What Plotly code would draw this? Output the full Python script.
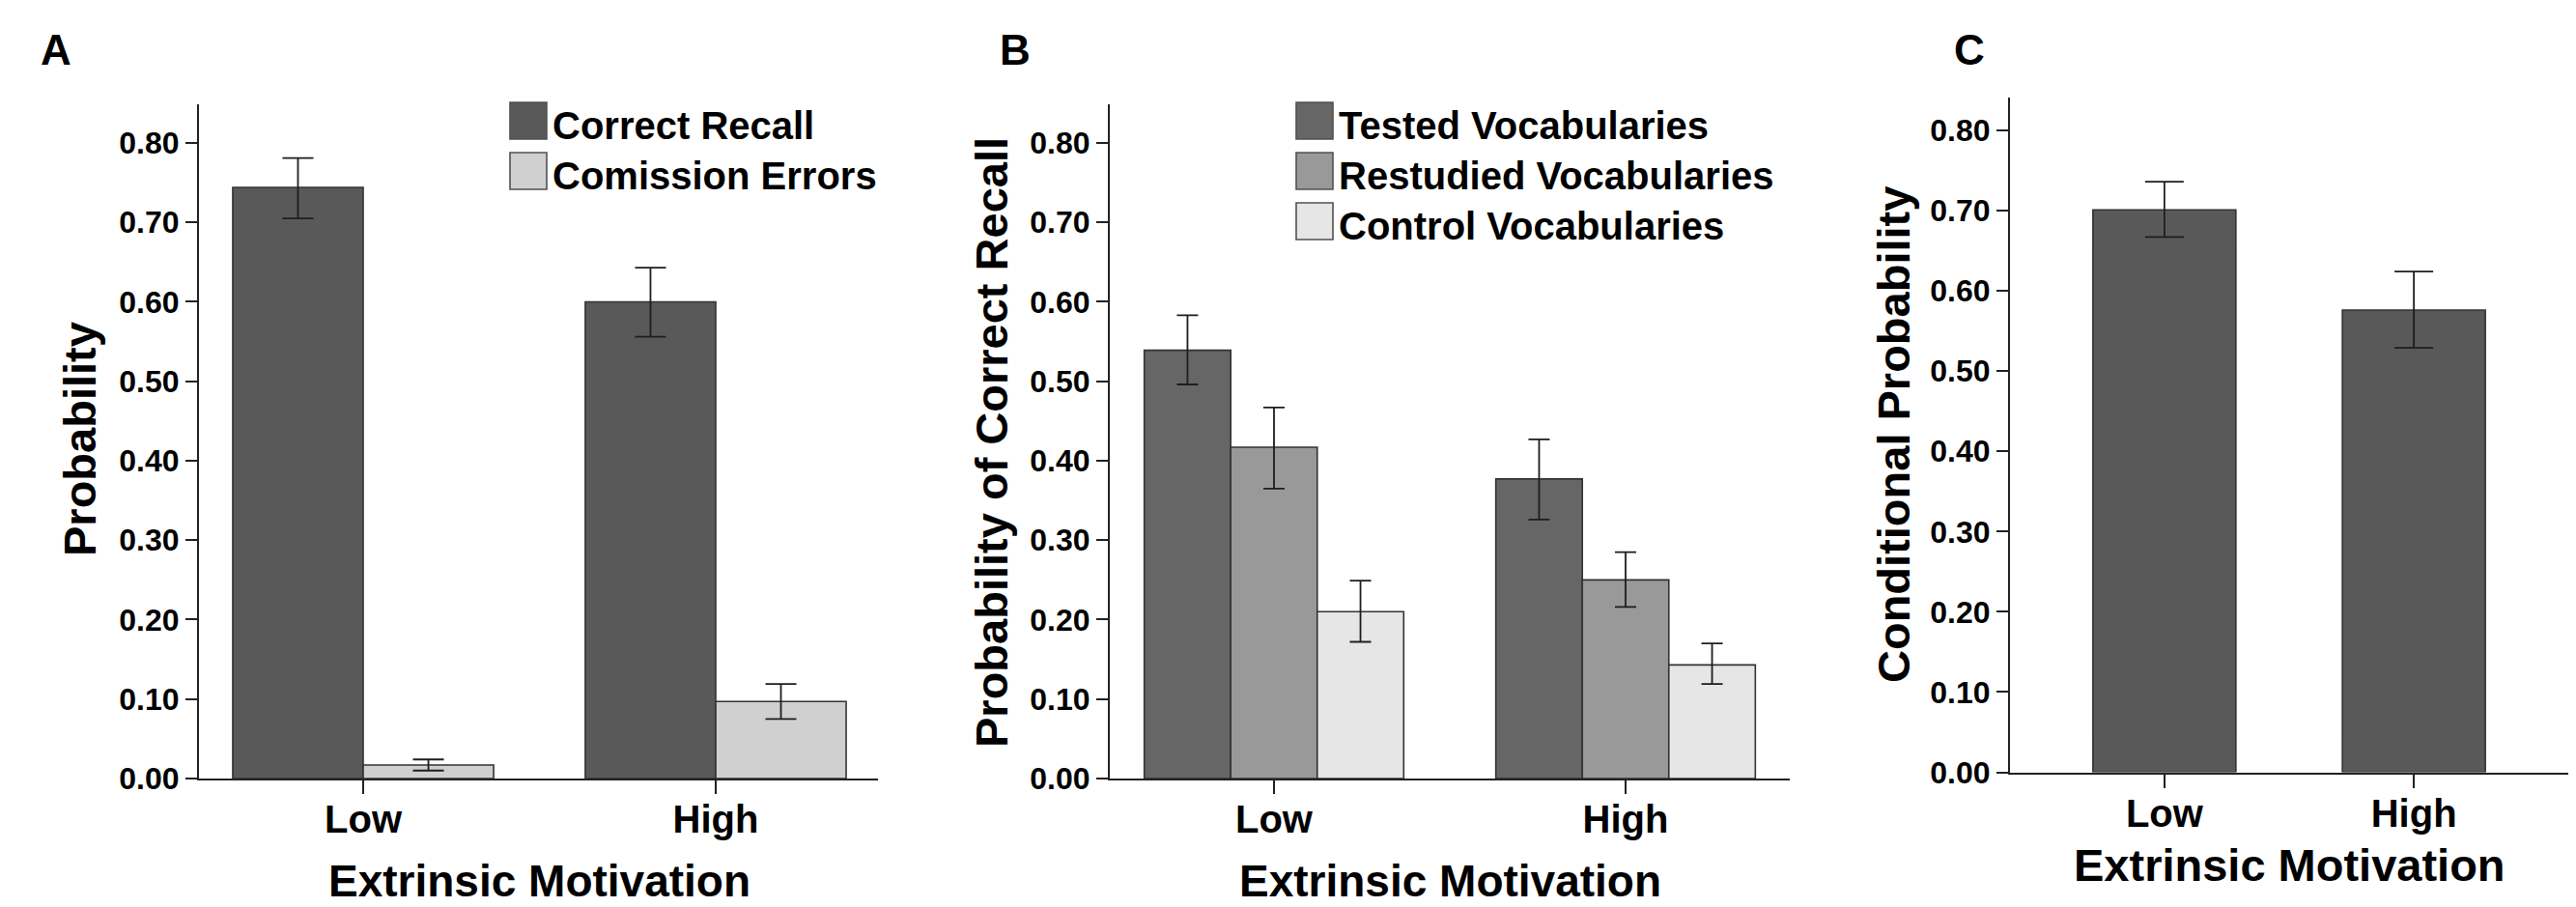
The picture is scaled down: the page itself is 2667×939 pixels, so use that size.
import plotly.graph_objects as go

W, H = 2667, 939
FONT = "Liberation Sans, Arial, sans-serif"

# ---------------- data ----------------
categories = ["Low", "High"]
y_ticks = [0.0, 0.1, 0.2, 0.3, 0.4, 0.5, 0.6, 0.7, 0.8]
y_tick_labels = ["0.00", "0.10", "0.20", "0.30", "0.40", "0.50", "0.60", "0.70", "0.80"]

# Panel A
a_series = ["Correct Recall", "Comission Errors"]
a_correct = [0.744, 0.600]
a_correct_hi = [0.781, 0.643]
a_correct_lo = [0.705, 0.556]
a_comm = [0.017, 0.097]
a_comm_hi = [0.024, 0.119]
a_comm_lo = [0.010, 0.075]

# Panel B
b_series = ["Tested Vocabularies", "Restudied Vocabularies", "Control Vocabularies"]
b_tested = [0.539, 0.377]
b_tested_hi = [0.583, 0.427]
b_tested_lo = [0.496, 0.326]
b_restud = [0.417, 0.250]
b_restud_hi = [0.467, 0.285]
b_restud_lo = [0.365, 0.216]
b_control = [0.210, 0.143]
b_control_hi = [0.249, 0.170]
b_control_lo = [0.172, 0.119]

# Panel C
c_cond = [0.701, 0.576]
c_cond_hi = [0.736, 0.624]
c_cond_lo = [0.667, 0.529]

# ---------------- styles ----------------
C_DARK = "#595959"
C_LIGHT = "#d0d0d0"
C_TEST = "#666666"
C_REST = "#999999"
C_CTRL = "#e6e6e6"
EDGE = "#333333"
ERR = "#1e1e1e"
AX = "#222222"


def px(x):
    return x / W


def py(y):
    return 1 - y / H


def bar(name, vals, hi, lo, color, xa, ya, offset, width, capw):
    return go.Bar(
        name=name, x=categories, y=vals, xaxis=xa, yaxis=ya,
        offset=offset, width=width, showlegend=False,
        marker=dict(color=color, line=dict(color=EDGE, width=1.6)),
        error_y=dict(type="data", symmetric=False,
                     array=[h - v for h, v in zip(hi, vals)],
                     arrayminus=[v - l for v, l in zip(vals, lo)],
                     color=ERR, thickness=1.8, width=capw),
    )


fig = go.Figure()
# Panel A
wa = 0.370
fig.add_trace(bar(a_series[0], a_correct, a_correct_hi, a_correct_lo, C_DARK, "x", "y", -wa, wa, 16))
fig.add_trace(bar(a_series[1], a_comm, a_comm_hi, a_comm_lo, C_LIGHT, "x", "y", 0, wa, 16))
# Panel B
wb = 0.246
fig.add_trace(bar(b_series[0], b_tested, b_tested_hi, b_tested_lo, C_TEST, "x2", "y2", -1.5 * wb, wb, 11))
fig.add_trace(bar(b_series[1], b_restud, b_restud_hi, b_restud_lo, C_REST, "x2", "y2", -0.5 * wb, wb, 11))
fig.add_trace(bar(b_series[2], b_control, b_control_hi, b_control_lo, C_CTRL, "x2", "y2", 0.5 * wb, wb, 11))
# Panel C
wc = 0.573
fig.add_trace(bar("Conditional Probability", c_cond, c_cond_hi, c_cond_lo, C_DARK, "x3", "y3", -wc / 2, wc, 20))

tickfont_y = dict(family=FONT, size=32, color="#000000")
tickfont_x = dict(family=FONT, size=40, color="#000000")


def xaxis(domain, rng, anchor):
    return dict(domain=domain, range=rng, anchor=anchor, type="category",
                tickvals=categories, ticktext=["<b>%s</b>" % c for c in categories],
                showline=True, linecolor=AX, linewidth=2,
                ticks="outside", ticklen=14, tickwidth=2, tickcolor=AX,
                showgrid=False, zeroline=False, tickfont=tickfont_x,
                ticklabelstandoff=-8, automargin=False, fixedrange=True)


def yaxis(domain, rng, anchor):
    return dict(domain=domain, range=rng, anchor=anchor,
                tickvals=y_ticks, ticktext=["<b>%s</b>" % t for t in y_tick_labels],
                showline=True, linecolor=AX, linewidth=2,
                ticks="outside", ticklen=12, tickwidth=2, tickcolor=AX,
                showgrid=False, zeroline=False, tickfont=tickfont_y,
                ticklabelstandoff=0, automargin=False, fixedrange=True)


fig.update_layout(
    width=W, height=H, margin=dict(l=0, r=0, t=0, b=0, autoexpand=False),
    paper_bgcolor="white", plot_bgcolor="white",
    barmode="overlay", showlegend=False,
    font=dict(family=FONT, color="#000000"),
    xaxis=xaxis([px(206), px(909)], [-0.4658, 1.4603], "y"),
    yaxis=yaxis([py(806), py(108)], [0, 0.8486], "x"),
    xaxis2=xaxis([px(1149), px(1853)], [-0.467, 1.467], "y2"),
    yaxis2=yaxis([py(806), py(108)], [0, 0.8486], "x2"),
    xaxis3=xaxis([px(2081), px(2659)], [-0.619, 1.619], "y3"),
    yaxis3=yaxis([py(799.5), py(101)], [0, 0.8409], "x3"),
)

ann = []
shapes = []


def text(x, y, s, size, angle=0, xanchor="center"):
    ann.append(dict(x=px(x), y=py(y), xref="paper", yref="paper", text=s,
                    showarrow=False, textangle=angle, xanchor=xanchor, yanchor="middle",
                    font=dict(family=FONT, size=size, color="#000000")))


# panel letters
text(58, 51, "<b>A</b>", 44)
text(1051, 52, "<b>B</b>", 44)
text(2039, 51, "<b>C</b>", 44)

# axis titles
text(558, 912, "<b>Extrinsic Motivation</b>", 46)
text(1501, 912, "<b>Extrinsic Motivation</b>", 46)
text(2370, 895, "<b>Extrinsic Motivation</b>", 47)
text(82, 455, "<b>Probability</b>", 47, angle=-90)
text(1026, 458, "<b>Probability of Correct Recall</b>", 47, angle=-90)
text(1960, 450, "<b>Conditional Probability</b>", 47, angle=-90)


def legend(x0, names, colors, top=106, step=52, size=38):
    for i, (n, c) in enumerate(zip(names, colors)):
        y0 = top + i * step
        shapes.append(dict(type="rect", xref="paper", yref="paper",
                           x0=px(x0), x1=px(x0 + size), y0=py(y0), y1=py(y0 + size),
                           fillcolor=c, line=dict(color="#505050", width=1.6)))
        text(x0 + size + 4, y0 + 24, "<b>" + n + "</b>", 40, xanchor="left")


legend(528, a_series, [C_DARK, C_LIGHT])
legend(1342, b_series, [C_TEST, C_REST, C_CTRL])

fig.update_layout(annotations=ann, shapes=shapes)
fig.write_html("out.html", config={"displayModeBar": False, "staticPlot": True},
               post_script="document.body.style.margin='0px';document.body.style.overflow='hidden';")
